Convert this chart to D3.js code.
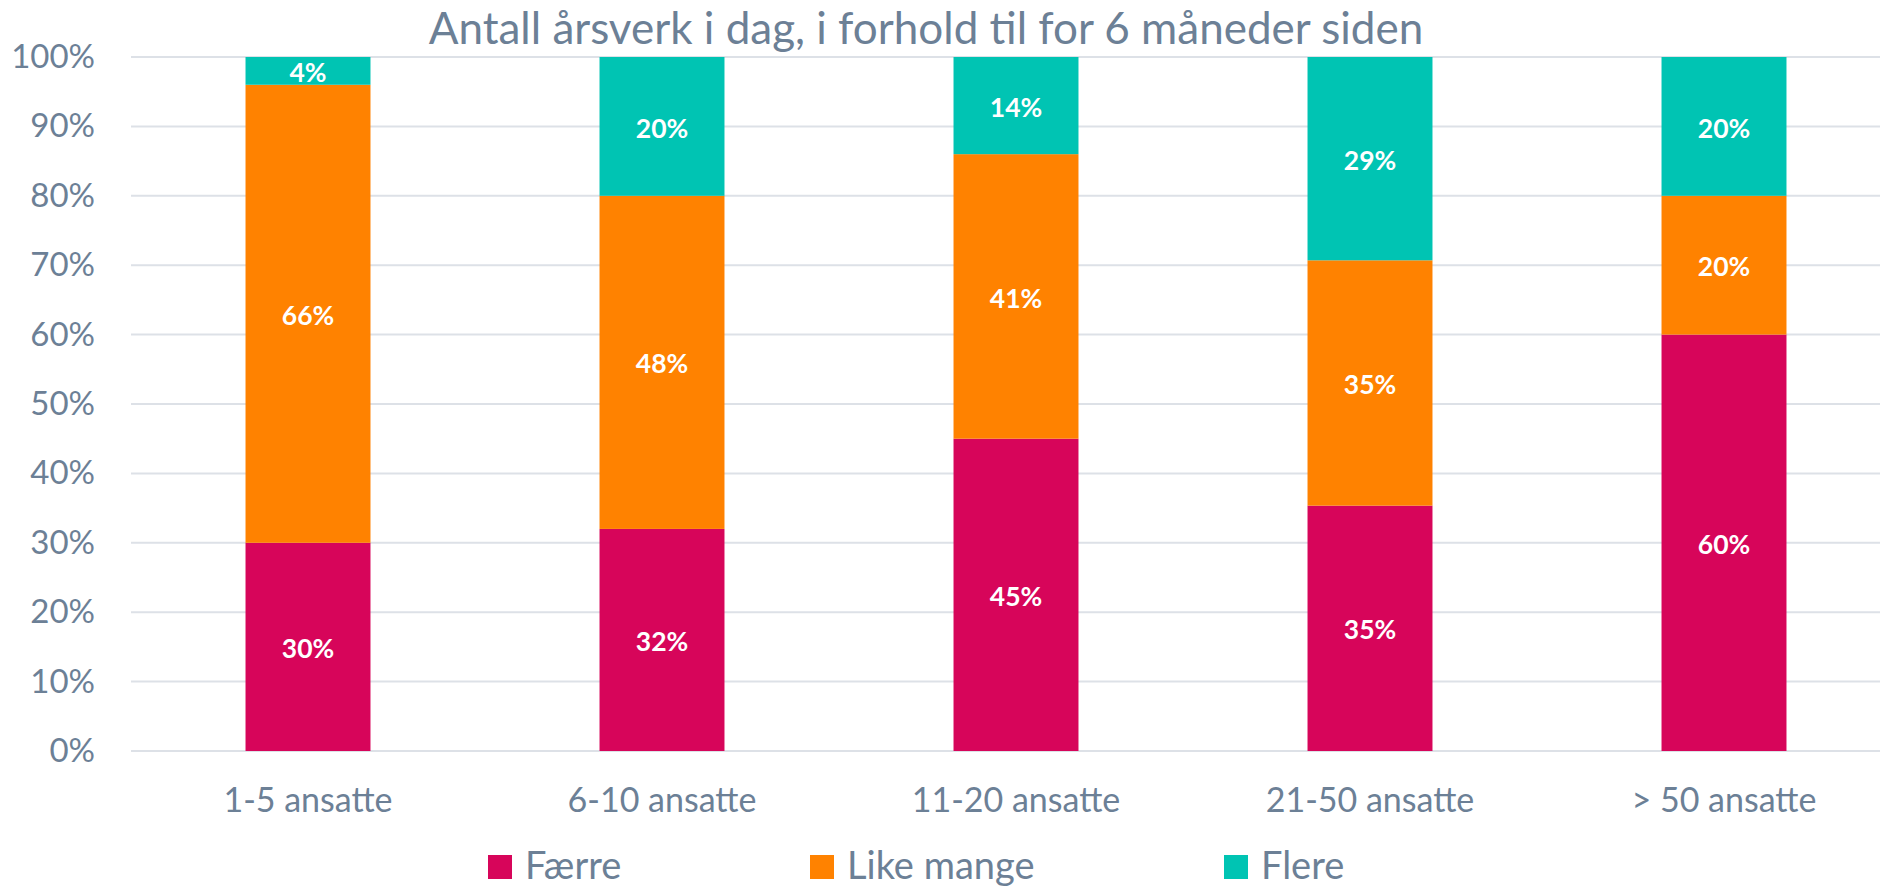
<!DOCTYPE html>
<html>
<head>
<meta charset="utf-8">
<script src="https://cdn.jsdelivr.net/npm/d3@7"></script>
<style>
  html, body { margin: 0; padding: 0; background: #ffffff; }
  svg { display: block; font-family: Lato, "Open Sans", sans-serif; }
</style>
</head>
<body>
<svg id="chart" width="1880" height="886"></svg>
<script>
// Employee-count groups along the x axis
const categories = ["1-5 ansatte", "6-10 ansatte", "11-20 ansatte", "21-50 ansatte", "> 50 ansatte"];

// Share of respondents (%) per answer, one value per group
const faerre     = [30, 32, 45, 35, 60];
const likeMange  = [66, 48, 41, 35, 20];
const flere      = [4, 20, 14, 29, 20];

const seriesNames = ["Færre", "Like mange", "Flere"];
const seriesColors = ["#d7055a", "#ff8200", "#00c4b3"];

const yTicks = [0, 0.1, 0.2, 0.3, 0.4, 0.5, 0.6, 0.7, 0.8, 0.9, 1.0];

const titleText = "Antall årsverk i dag, i forhold til for 6 måneder siden";

const textColor = "#6c8096";
const gridColor = "#dde1e7";

const svg = d3.select("#chart");
const W = 1880, H = 886;

const margin = { left: 131, right: -21, top: 57, bottom: 135 };
const innerBottom = H - margin.bottom;

const x = d3.scaleBand()
  .domain(categories)
  .range([margin.left, W - margin.right])
  .paddingInner(0.647)
  .paddingOuter(0.3235);

const y = d3.scaleLinear()
  .domain([0, 1])
  .range([innerBottom, margin.top]);

// Rows for the stack layout
const rows = categories.map((c, i) => ({
  cat: c,
  "Færre": faerre[i],
  "Like mange": likeMange[i],
  "Flere": flere[i]
}));

const stack = d3.stack()
  .keys(seriesNames)
  .offset(d3.stackOffsetExpand);
const layers = stack(rows);

// Gridlines
const grid = svg.append("g");
grid.selectAll("line")
  .data(yTicks)
  .join("line")
  .attr("x1", margin.left)
  .attr("x2", W)
  .attr("y1", d => y(d))
  .attr("y2", d => y(d))
  .attr("stroke", gridColor)
  .attr("stroke-width", 2);

// Y axis labels
const yAxis = svg.append("g")
  .attr("transform", `translate(${margin.left},0)`)
  .call(d3.axisLeft(y).tickValues(yTicks).tickFormat(d3.format(".0%")).tickSize(0).tickPadding(36));
yAxis.select(".domain").remove();
yAxis.selectAll("text")
  .attr("fill", textColor)
  .style("font-size", "33px")
  .style("font-family", "Lato, sans-serif");

// Stacked bars
const layerG = svg.append("g")
  .selectAll("g")
  .data(layers)
  .join("g")
  .attr("fill", (d, i) => seriesColors[i]);

layerG.selectAll("rect")
  .data(d => d)
  .join("rect")
  .attr("x", d => x(d.data.cat))
  .attr("width", x.bandwidth())
  .attr("y", d => y(d[1]))
  .attr("height", d => y(d[0]) - y(d[1]));

// Value labels inside each segment
layers.forEach((layer, li) => {
  const vals = [faerre, likeMange, flere][li];
  svg.append("g")
    .selectAll("text")
    .data(layer)
    .join("text")
    .attr("x", d => x(d.data.cat) + x.bandwidth() / 2)
    .attr("y", d => (y(d[0]) + y(d[1])) / 2)
    .attr("dy", "0.42em")
    .attr("text-anchor", "middle")
    .attr("fill", "#ffffff")
    .style("font-weight", "700")
    .style("font-size", "26.5px")
    .text((d, i) => vals[i] + "%");
});

// X axis labels
const xAxis = svg.append("g")
  .attr("transform", `translate(0,${innerBottom})`)
  .call(d3.axisBottom(x).tickSize(0).tickPadding(37));
xAxis.select(".domain").remove();
xAxis.selectAll("text")
  .attr("fill", textColor)
  .style("font-size", "34px")
  .style("font-family", "Lato, sans-serif");

// Title
svg.append("text")
  .attr("x", 926)
  .attr("y", 44)
  .attr("text-anchor", "middle")
  .attr("fill", textColor)
  .style("font-size", "44px")
  .text(titleText);

// Legend
const legendX = [488, 810, 1224];
const legend = svg.append("g")
  .selectAll("g")
  .data(seriesNames)
  .join("g")
  .attr("transform", (d, i) => `translate(${legendX[i]},855)`);
legend.append("rect")
  .attr("width", 24)
  .attr("height", 24)
  .attr("fill", (d, i) => seriesColors[i]);
legend.append("text")
  .attr("x", 37)
  .attr("y", 24)
  .attr("fill", textColor)
  .style("font-size", "38px")
  .text(d => d);
</script>
</body>
</html>
